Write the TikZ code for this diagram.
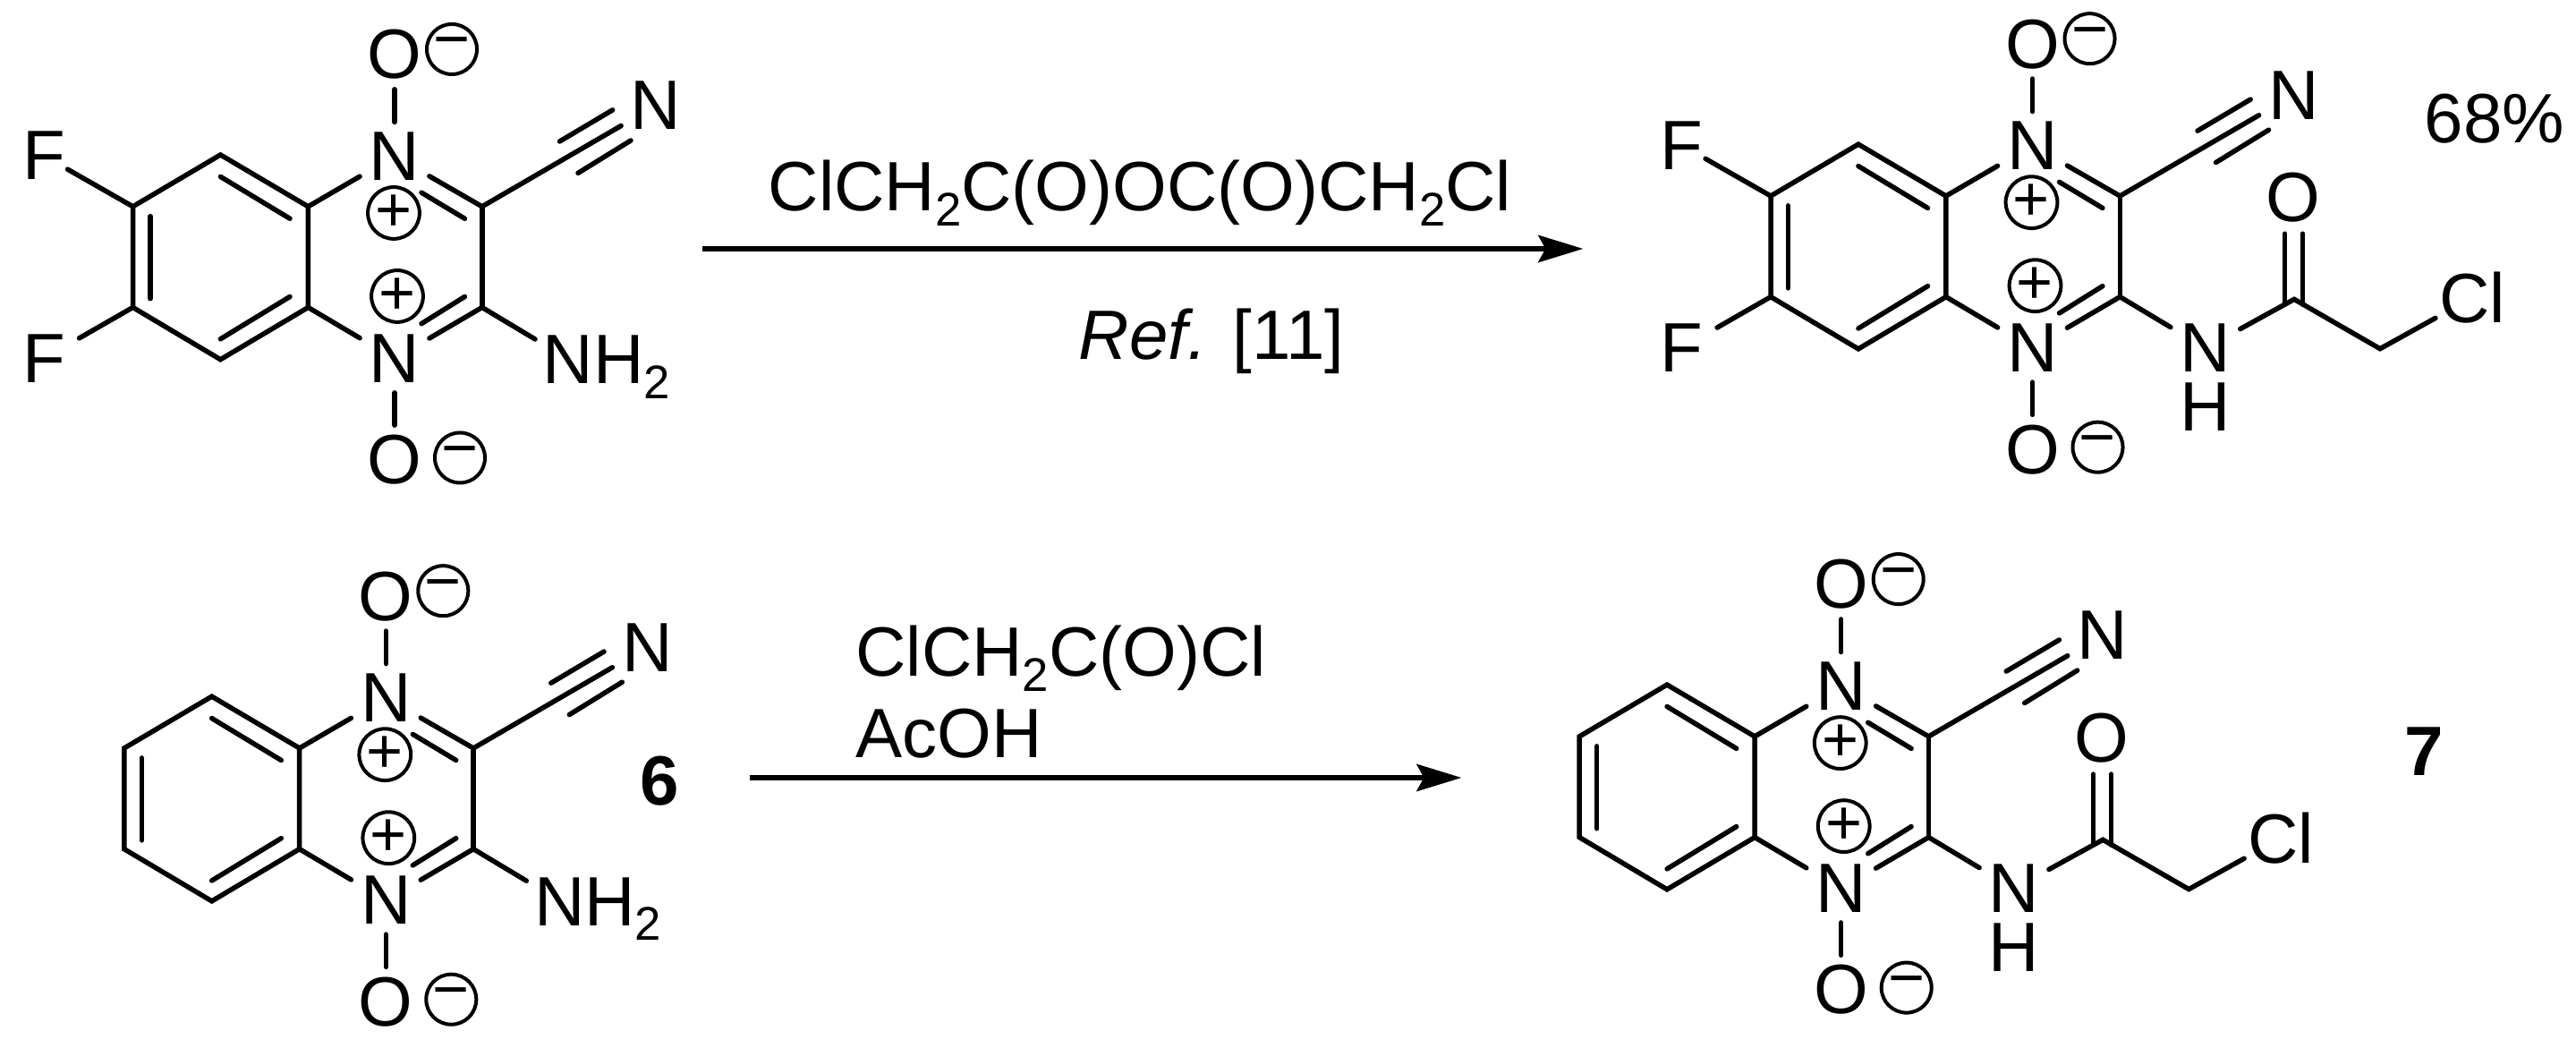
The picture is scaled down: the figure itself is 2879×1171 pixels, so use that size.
\documentclass[tikz,border=0pt]{standalone}
\usepackage{fontspec}
\usepackage{xcolor}
\usetikzlibrary{arrows.meta}
\setmainfont{Liberation Sans}
\newcommand{\subtwo}{\raisebox{-4.6pt}{\fontsize{15}{15}\selectfont 2}}
\tikzset{
  bond/.style={line width=0.55mm,line cap=round},
  reaction/.style={line width=0.65mm,-{Stealth[length=5mm,width=3mm,inset=0.8mm]}},
  atom/.style={inner xsep=1mm,inner ysep=1.05mm,font=\fontsize{22.2}{26}\selectfont},
  txt/.style={inner sep=0pt,anchor=base west,font=\fontsize{22.2}{26}\selectfont},
  tag/.style={inner sep=0pt,anchor=base,font=\fontsize{22.2}{26}\selectfont\bfseries},
  charge/.style={circle,draw,line width=0.4mm,minimum size=5.6mm,inner sep=0pt,font=\fontsize{20}{20}\selectfont},
  core/.pic={
    \coordinate (-c1) at (246.4,173);
    \coordinate (-c2) at (148.5,230.8);
    \coordinate (-c3) at (148.5,343.5);
    \coordinate (-c4) at (246.4,401.7);
    \coordinate (-c5) at (344.4,343.5);
    \coordinate (-c6) at (344.4,230.8);
    \coordinate (-c7) at (538.8,230.8);
    \coordinate (-c8) at (538.8,343.5);
    \node[atom] (-n1) at (441,174.5) {N};
    \node[atom] (-n2) at (441,400.8) {N};
    \node[atom] (-o1) at (441,61) {O};
    \node[atom] (-o2) at (441,514) {O};
    \node[atom] (-cn) at (733,118) {N};
    \node[charge] (-m1) at (505,55) {−};
    \node[charge] (-m2) at (514,511.5) {−};
    \node[charge] (-p1) at (440,238) {+};
    \node[charge] (-p2) at (444,331) {+};
    \draw[bond] (-c1) -- (-c2) -- (-c3) -- (-c4) -- (-c5) -- (-c6) -- cycle;
    \draw[bond] (246.4,197.4) -- (324,244.3);
    \draw[bond] (168,241.7) -- (168,333.7);
    \draw[bond] (246.4,378.8) -- (324,331.5);
    \draw[bond] (-c6) -- (-n1);
    \draw[bond] (-c5) -- (-n2);
    \draw[bond] (-n1) -- (-c7);
    \draw[bond] (-n2) -- (-c8);
    \draw[bond] (471,215.2) -- (519.4,244.3);
    \draw[bond] (471,361.7) -- (519.4,331.5);
    \draw[bond] (-c7) -- (-c8);
    \draw[bond] (-n1) -- (-o1);
    \draw[bond] (-n2) -- (-o2);
    \draw[bond] (-c7) -- (-cn);
    \draw[bond] (625.5,158) -- (684.7,122.9);
    \draw[bond] (646,193.4) -- (705,157);
  },
  fluoro/.pic={
    \node[atom,inner xsep=0.2mm] (-f1) at (49,174) {F};
    \node[atom,inner xsep=1.5mm] (-f2) at (49,400.6) {F};
    \draw[bond] (-c2) -- (-f1);
    \draw[bond] (-c3) -- (-f2);
  },
  amino/.pic={
    \node[txt] (-nh) at (606,429) {NH\subtwo};
    \coordinate (-nhbond) at (598,379);
    \draw[bond] (-c8) -- (-nhbond);
  },
  amide/.pic={
    \node[atom] (-nh) at (634.3,400.8) {N};
    \node[atom] (-h) at (634.3,466.2) {H};
    \coordinate (-co) at (733.5,346.2);
    \coordinate (-ch) at (829.5,401.5);
    \node[atom,inner xsep=0.35mm] (-cl) at (932.5,344.4) {Cl};
    \node[atom] (-oa) at (732,232.4) {O};
    \draw[bond] (-c8) -- (-nh);
    \draw[bond] (-nh) -- (-co) -- (-ch) -- (-cl);
    \draw[bond] (723,273) -- (723,352);
    \draw[bond] (743,273) -- (743,352);
  }
}
\begin{document}
\begin{tikzpicture}[x=0.01cm,y=-0.01cm]
  \useasboundingbox (0,0) rectangle (2879,1171);

  \pic (flsm) at (0,0) {core};
  \pic (flsm) at (0,0) {fluoro};
  \pic (flsm) at (0,0) {amino};

  \pic (flpr) at (1830.5,-11.8) {core};
  \pic (flpr) at (1830.5,-11.8) {fluoro};
  \pic (flpr) at (1830.5,-11.8) {amide};

  \pic (hsm) at (-9.7,605.2) {core};
  \pic (hsm) at (-9.7,605.2) {amino};

  \pic (hpr) at (1616.7,592.1) {core};
  \pic (hpr) at (1616.7,592.1) {amide};

  \node[txt] (reagenttop) at (858,236) {ClCH\subtwo C(O)OC(O)CH\subtwo Cl};
  \node[txt] (reftop) at (1205,401.7) {\textit{Ref.} [11]};
  \coordinate (arrowtops) at (785,278);
  \coordinate (arrowtope) at (1769.4,278);
  \draw[reaction] (arrowtops) -- (arrowtope);

  \node[txt] (reagentlow) at (955.6,756) {ClCH\subtwo C(O)Cl};
  \node[txt] (acid) at (956,846.7) {AcOH};
  \coordinate (arrowlows) at (838,869);
  \coordinate (arrowlowe) at (1633.5,869);
  \draw[reaction] (arrowlows) -- (arrowlowe);

  \node[txt] (yield) at (2709,160) {68\%};
  \node[tag] (six) at (736.7,900) {6};
  \node[tag] (seven) at (2708.8,866.6) {7};
\end{tikzpicture}
\end{document}
